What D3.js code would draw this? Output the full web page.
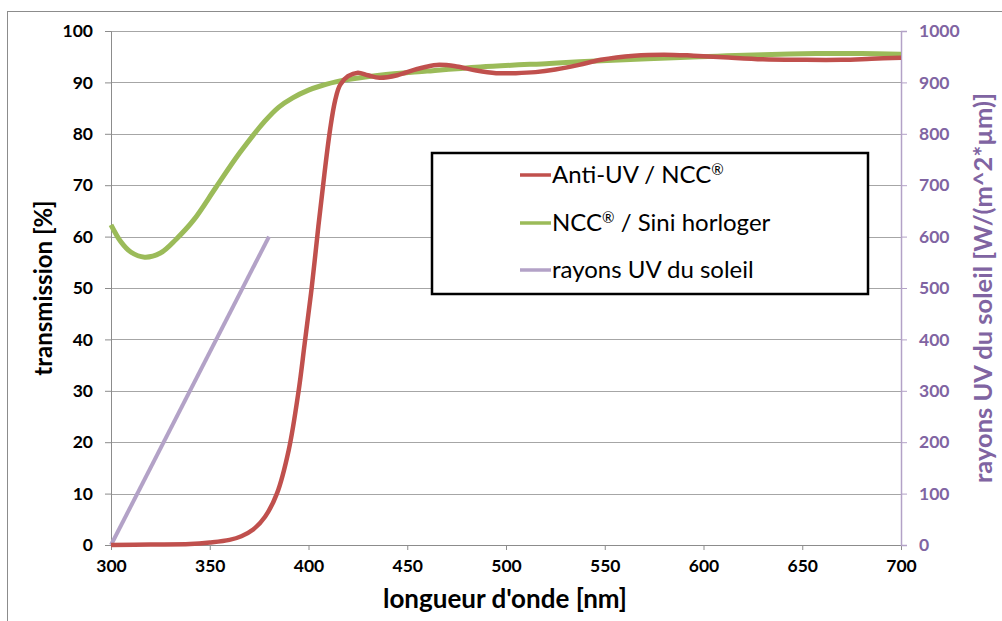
<!DOCTYPE html>
<html>
<head>
<meta charset="utf-8">
<script src="https://cdn.jsdelivr.net/npm/d3@7"></script>
<style>
  body { margin: 0; background: #fff; }
  svg text { font-family: Lato, "Open Sans", sans-serif; }
</style>
</head>
<body>
<div id="chart"></div>
<script>
// data
const redWave = [300, 320, 340, 350, 360, 366, 372, 378, 384, 390, 395, 398, 401.6, 405, 408, 411, 413.5, 416, 420, 425, 430, 436, 445, 455, 465, 475, 485, 495, 505, 515, 525, 537, 548, 565, 580, 595, 610, 630, 650, 670, 685, 700];
const redTrans = [0, 0.1, 0.2, 0.5, 1.0, 1.7, 3.0, 5.5, 10, 18.5, 30, 39, 50, 62, 72, 81, 86.5, 89.5, 91.2, 91.9, 91.4, 90.9, 91.4, 92.6, 93.4, 93.1, 92.3, 91.8, 91.8, 92.0, 92.5, 93.4, 94.4, 95.2, 95.4, 95.2, 94.9, 94.5, 94.4, 94.4, 94.6, 94.8];
const greenWave = [300, 305, 310, 317, 325, 333, 342, 353, 365, 378, 385, 392, 400, 406, 416, 436, 460, 487, 522, 537, 560, 585, 607, 630, 657, 680, 700];
const greenTrans = [62.3, 59, 57, 56, 56.8, 59.5, 63.3, 69.5, 76.2, 82.5, 85.2, 87, 88.5, 89.3, 90.3, 91.4, 92.2, 93, 93.7, 94, 94.4, 94.8, 95.1, 95.4, 95.6, 95.6, 95.5];
const uvWave = [300, 380];
const uvIrr = [0, 600];

const xTicks = [300, 350, 400, 450, 500, 550, 600, 650, 700];
const yTicks = [0, 10, 20, 30, 40, 50, 60, 70, 80, 90, 100];
const y2Ticks = [0, 100, 200, 300, 400, 500, 600, 700, 800, 900, 1000];

const seriesNames = [["Anti-UV / NCC", "®", ""], ["NCC", "®", " / Sini horloger"], ["rayons UV du soleil", "", ""]];
const seriesColors = ["#c0504d", "#9bbb59", "#b3a2c7"];

const width = 1002, height = 621;
const plot = { left: 111, right: 901, top: 31, bottom: 545 };

const svg = d3.select("#chart").append("svg")
    .attr("width", width)
    .attr("height", height);

// outer chart frame
svg.append("rect")
    .attr("x", 7.5).attr("y", 11.5)
    .attr("width", 1000).attr("height", 620)
    .attr("fill", "none")
    .attr("stroke", "#8c8c8c")
    .attr("stroke-width", 1);

const x = d3.scaleLinear().domain([300, 700]).range([plot.left, plot.right]);
const y = d3.scaleLinear().domain([0, 100]).range([plot.bottom, plot.top]);
const y2 = d3.scaleLinear().domain([0, 1000]).range([plot.bottom, plot.top]);

// gridlines
svg.append("g")
    .selectAll("line")
    .data(yTicks)
    .enter().append("line")
    .attr("x1", plot.left).attr("x2", plot.right)
    .attr("y1", d => Math.round(y(d)) + 0.5)
    .attr("y2", d => Math.round(y(d)) + 0.5)
    .attr("stroke", "#a6a6a6")
    .attr("stroke-width", 1.2);

// left axis
const leftAxis = svg.append("g")
    .attr("transform", `translate(${plot.left},0)`)
    .call(d3.axisLeft(y).tickValues(yTicks).tickSize(6).tickPadding(12));
leftAxis.select(".domain").attr("stroke", "#8c8c8c");
leftAxis.selectAll(".tick line").attr("stroke", "#8c8c8c");
leftAxis.selectAll("text")
    .attr("font-size", 17.5).attr("font-weight", "bold").attr("fill", "#000");

// bottom axis
const bottomAxis = svg.append("g")
    .attr("transform", `translate(0,${plot.bottom})`)
    .call(d3.axisBottom(x).tickValues(xTicks).tickSize(5).tickPadding(10));
bottomAxis.select(".domain").attr("stroke", "#8c8c8c");
bottomAxis.selectAll(".tick line").attr("stroke", "#8c8c8c");
bottomAxis.selectAll("text")
    .attr("font-size", 17.5).attr("font-weight", "bold").attr("fill", "#000");

// right axis (purple)
const rightAxis = svg.append("g")
    .attr("transform", `translate(${plot.right},0)`)
    .call(d3.axisRight(y2).tickValues(y2Ticks).tickFormat(d3.format("d")).tickSize(6).tickPadding(12));
rightAxis.select(".domain").attr("stroke", "#b3a2c7").attr("stroke-width", 1.5);
rightAxis.selectAll(".tick line").attr("stroke", "#b3a2c7");
rightAxis.selectAll("text")
    .attr("font-size", 17.5).attr("font-weight", "bold").attr("fill", "#8064a2");

// lines
const line = d3.line().curve(d3.curveCatmullRom.alpha(0.5));

svg.append("path")
    .datum(uvWave.map((w, i) => [x(w), y2(uvIrr[i])]))
    .attr("d", line)
    .attr("fill", "none")
    .attr("stroke", seriesColors[2])
    .attr("stroke-width", 4);

svg.append("path")
    .datum(greenWave.map((w, i) => [x(w), y(greenTrans[i])]))
    .attr("d", line)
    .attr("fill", "none")
    .attr("stroke", seriesColors[1])
    .attr("stroke-width", 5);

svg.append("path")
    .datum(redWave.map((w, i) => [x(w), y(redTrans[i])]))
    .attr("d", line)
    .attr("fill", "none")
    .attr("stroke", seriesColors[0])
    .attr("stroke-width", 4.5);

// axis titles
svg.append("text")
    .attr("transform", "translate(52,288) rotate(-90)")
    .attr("text-anchor", "middle")
    .attr("font-size", 24).attr("font-weight", "bold")
    .text("transmission [%]");

svg.append("text")
    .attr("transform", "translate(992,288) rotate(-90)")
    .attr("text-anchor", "middle")
    .attr("font-size", 25.5).attr("font-weight", "bold")
    .attr("fill", "#8064a2")
    .text("rayons UV du soleil [W/(m^2*µm)]");

svg.append("text")
    .attr("x", 505).attr("y", 608)
    .attr("text-anchor", "middle")
    .attr("font-size", 26).attr("font-weight", "bold")
    .text("longueur d'onde [nm]");

// legend
const legend = svg.append("g");
legend.append("rect")
    .attr("x", 432).attr("y", 153)
    .attr("width", 436).attr("height", 141)
    .attr("fill", "#fff")
    .attr("stroke", "#000")
    .attr("stroke-width", 2.5);

const rowY = [175, 223, 270];
seriesNames.forEach((parts, i) => {
    legend.append("line")
        .attr("x1", 520).attr("x2", 551)
        .attr("y1", rowY[i]).attr("y2", rowY[i])
        .attr("stroke", seriesColors[i])
        .attr("stroke-width", 3.5);
    const t = legend.append("text")
        .attr("x", 552).attr("y", rowY[i] + 8)
        .attr("font-size", 24);
    t.append("tspan").text(parts[0]);
    if (parts[1]) {
        t.append("tspan").attr("font-size", 15).attr("dy", -8).text(parts[1]);
        t.append("tspan").attr("dy", 8).text(parts[2]);
    }
});
</script>
</body>
</html>
